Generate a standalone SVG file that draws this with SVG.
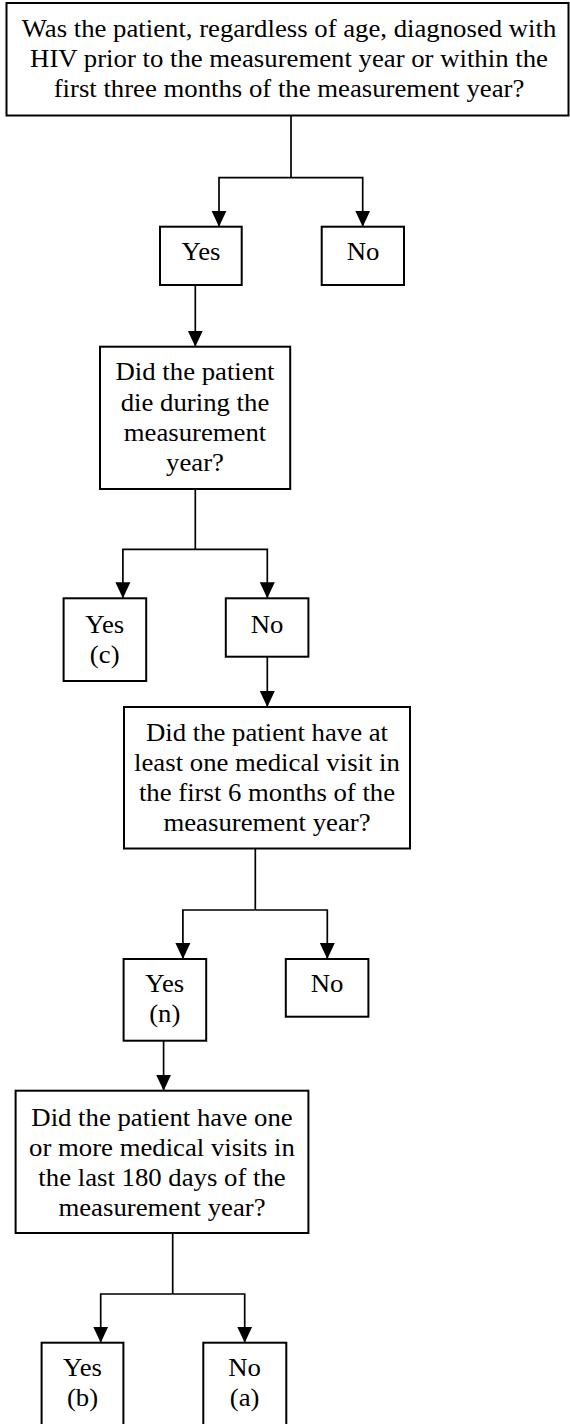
<svg xmlns="http://www.w3.org/2000/svg" width="570" height="1424" viewBox="0 0 570 1424">
<style>
.box{fill:#fff;stroke:#000;stroke-width:2}
.t{font-family:"Liberation Serif","Times New Roman",serif;font-size:24.2px;text-anchor:middle;fill:#000}
.c{fill:none;stroke:#000;stroke-width:1.7}
.a{marker-end:url(#arr)}
</style>
<defs>
<marker id="arr" markerUnits="userSpaceOnUse" markerWidth="16" markerHeight="16" refX="16" refY="7.5" orient="auto" viewBox="0 0 16 15">
<path d="M0,0 L16,7.5 L0,15 z" fill="#000"/>
</marker>
</defs>
<rect width="570" height="1424" fill="#fff"/>
<g id="connectors">
<path class="c" d="M291,115.5 V177.7"/>
<path class="c a" d="M291,177.7 H219 V226.7"/>
<path class="c a" d="M291,177.7 H362.7 V226.7"/>
<path class="c a" d="M195.3,285 V346.7"/>
<path class="c" d="M195.3,489 V549.3"/>
<path class="c a" d="M195.3,549.3 H122.9 V598.3"/>
<path class="c a" d="M195.3,549.3 H267.3 V598.3"/>
<path class="c a" d="M267.3,656.7 V707"/>
<path class="c" d="M255.3,848.5 V910"/>
<path class="c a" d="M255.3,910 H182.9 V959"/>
<path class="c a" d="M255.3,910 H327.3 V959"/>
<path class="c a" d="M163.6,1040.7 V1090.7"/>
<path class="c" d="M172.7,1233 V1294"/>
<path class="c a" d="M172.7,1294 H100.7 V1342.7"/>
<path class="c a" d="M172.7,1294 H244.7 V1342.7"/>
</g>
<g id="q1">
<rect class="box" x="6.5" y="3" width="562" height="112.5"/>
<text class="t" transform="translate(289,0) scale(1.105,1)"><tspan x="0" y="36.7">Was the patient, regardless of age, diagnosed with</tspan><tspan x="0" y="66.7">HIV prior to the measurement year or within the</tspan><tspan x="0" y="96.7">first three months of the measurement year?</tspan></text>
</g>
<g id="q1-yes">
<rect class="box" x="160" y="226.7" width="81.7" height="58.3"/>
<text class="t" transform="translate(201,0) scale(1.105,1)"><tspan x="0" y="260">Yes</tspan></text>
</g>
<g id="q1-no">
<rect class="box" x="321.7" y="226.7" width="82.3" height="58.3"/>
<text class="t" transform="translate(363,0) scale(1.105,1)"><tspan x="0" y="260">No</tspan></text>
</g>
<g id="q2">
<rect class="box" x="100" y="346.7" width="190.2" height="142.3"/>
<text class="t" transform="translate(195,0) scale(1.105,1)"><tspan x="0" y="380.5">Did the patient</tspan><tspan x="0" y="410.7">die during the</tspan><tspan x="0" y="441">measurement</tspan><tspan x="0" y="471.3">year?</tspan></text>
</g>
<g id="q2-yes">
<rect class="box" x="63.6" y="598.3" width="82.6" height="82.7"/>
<text class="t" transform="translate(104.7,0) scale(1.105,1)"><tspan x="0" y="633">Yes</tspan><tspan x="0" y="663">(c)</tspan></text>
</g>
<g id="q2-no">
<rect class="box" x="225.8" y="598.3" width="82.6" height="58.4"/>
<text class="t" transform="translate(267,0) scale(1.105,1)"><tspan x="0" y="633">No</tspan></text>
</g>
<g id="q3">
<rect class="box" x="124" y="707" width="286" height="141.5"/>
<text class="t" transform="translate(267,0) scale(1.105,1)"><tspan x="0" y="741.5">Did the patient have at</tspan><tspan x="0" y="771.5">least one medical visit in</tspan><tspan x="0" y="801.5">the first 6 months of the</tspan><tspan x="0" y="831.5">measurement year?</tspan></text>
</g>
<g id="q3-yes">
<rect class="box" x="123.6" y="959" width="82.6" height="81.7"/>
<text class="t" transform="translate(164.8,0) scale(1.105,1)"><tspan x="0" y="992">Yes</tspan><tspan x="0" y="1022.5">(n)</tspan></text>
</g>
<g id="q3-no">
<rect class="box" x="285.8" y="959" width="82.6" height="57.7"/>
<text class="t" transform="translate(327,0) scale(1.105,1)"><tspan x="0" y="992">No</tspan></text>
</g>
<g id="q4">
<rect class="box" x="15.6" y="1090.7" width="292.8" height="142.3"/>
<text class="t" transform="translate(162,0) scale(1.105,1)"><tspan x="0" y="1126">Did the patient have one</tspan><tspan x="0" y="1156">or more medical visits in</tspan><tspan x="0" y="1186">the last 180 days of the</tspan><tspan x="0" y="1216">measurement year?</tspan></text>
</g>
<g id="q4-yes">
<rect class="box" x="41.6" y="1342.7" width="81.8" height="100"/>
<text class="t" transform="translate(82.5,0) scale(1.105,1)"><tspan x="0" y="1376.5">Yes</tspan><tspan x="0" y="1406">(b)</tspan></text>
</g>
<g id="q4-no">
<rect class="box" x="203.3" y="1342.7" width="83" height="100"/>
<text class="t" transform="translate(244.6,0) scale(1.105,1)"><tspan x="0" y="1376.5">No</tspan><tspan x="0" y="1406">(a)</tspan></text>
</g>
</svg>
